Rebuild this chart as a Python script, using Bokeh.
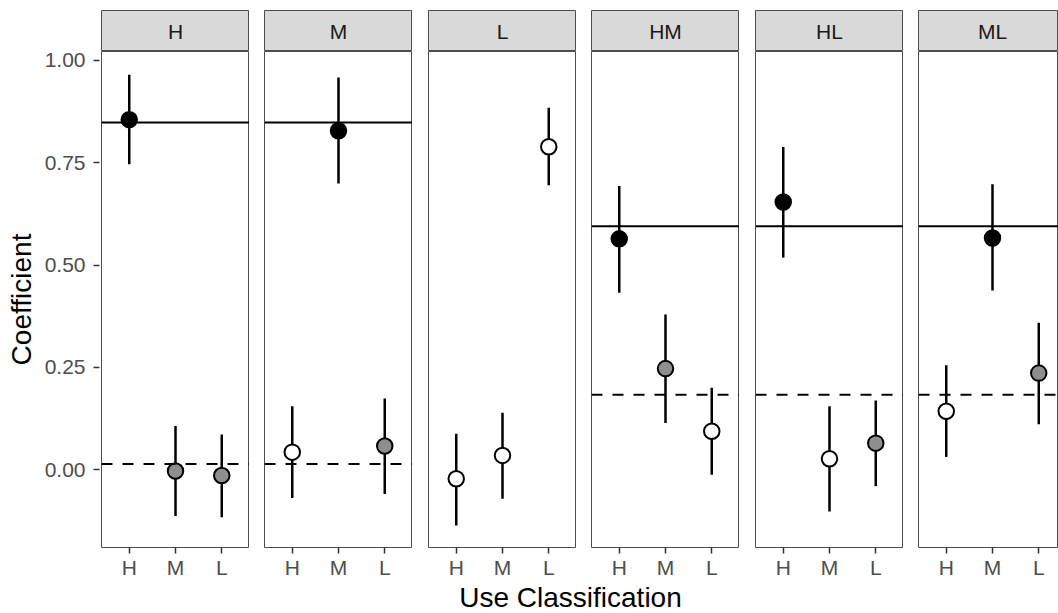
from bokeh.plotting import figure
from bokeh.models import Range1d, FixedTicker, NumeralTickFormatter, Span, Label
from bokeh.layouts import row, column
from bokeh.embed import file_html
from bokeh.resources import INLINE
from bokeh.core.properties import value

# ---------------- data ----------------
panels = ["H", "M", "L", "HM", "HL", "ML"]
levels = ["H", "M", "L"]

estimate = [
    [0.855, -0.003, -0.014],
    [0.043, 0.828, 0.058],
    [-0.022, 0.035, 0.789],
    [0.564, 0.247, 0.094],
    [0.654, 0.027, 0.065],
    [0.143, 0.566, 0.236],
]
lower = [
    [0.746, -0.113, -0.116],
    [-0.069, 0.699, -0.059],
    [-0.136, -0.071, 0.695],
    [0.432, 0.114, -0.012],
    [0.518, -0.102, -0.040],
    [0.031, 0.438, 0.111],
]
upper = [
    [0.965, 0.107, 0.086],
    [0.155, 0.958, 0.174],
    [0.088, 0.139, 0.884],
    [0.693, 0.379, 0.200],
    [0.788, 0.155, 0.169],
    [0.255, 0.697, 0.359],
]
fill_group = [
    ["black", "grey", "grey"],
    ["white", "black", "grey"],
    ["white", "white", "white"],
    ["black", "grey", "white"],
    ["black", "white", "grey"],
    ["white", "black", "grey"],
]
solid_ref = [0.848, 0.848, None, 0.595, 0.595, 0.595]
dashed_ref = [0.014, 0.014, None, 0.183, 0.183, 0.183]
y_ticks = [0.0, 0.25, 0.5, 0.75, 1.0]

# ---------------- style ----------------
FONT = "Liberation Sans"
fill_colors = {"black": "black", "grey": "#8E8E8E", "white": "white"}
TOP = 10
STRIP_H = 41
PANEL_H = 496
PX_PER_UNIT = 148 / 3.2
Y_LO, Y_HI = -0.1899, 1.0215
AXIS_W = 100
gaps = [1, 15, 16, 15, 16, 15]
frame_widths = [148, 148, 148, 148, 148, 140]
BOTTOM_BORDER = 34
TITLE_H = 613 - TOP - STRIP_H - PANEL_H - BOTTOM_BORDER

# ---- shared y axis (its own narrow figure so tick labels are not clipped) ----
ya = figure(
    frame_width=1, frame_height=PANEL_H,
    x_range=Range1d(0, 1), y_range=Range1d(Y_LO, Y_HI),
    output_backend="svg", toolbar_location=None, title=None,
    min_border_left=AXIS_W - 1, min_border_right=0,
    min_border_top=TOP + STRIP_H, min_border_bottom=BOTTOM_BORDER,
    x_axis_location=None, y_axis_location="left",
    background_fill_color="white", border_fill_color="white",
    outline_line_color=None,
)
ya.xgrid.visible = False
ya.ygrid.visible = False
ay = ya.yaxis[0]
ay.ticker = FixedTicker(ticks=y_ticks)
ay.formatter = NumeralTickFormatter(format="0.00")
ay.axis_line_color = None
ay.major_tick_in = 0
ay.major_tick_out = 6
ay.major_tick_line_color = "#333333"
ay.major_tick_line_width = 1.5
ay.minor_tick_line_color = None
ay.major_label_text_font = FONT
ay.major_label_text_font_size = "21px"
ay.major_label_text_color = "#4D4D4D"
ay.major_label_standoff = 8
ay.axis_label = "Coefficient"
ay.axis_label_text_font = FONT
ay.axis_label_text_font_size = "28px"
ay.axis_label_text_font_style = "normal"
ay.axis_label_text_color = "black"
ay.axis_label_standoff = 5

cols = [ya]
for i, name in enumerate(panels):
    w = frame_widths[i]
    x_end = 0.4 + w / PX_PER_UNIT

    # ---- facet strip ----
    s = figure(
        frame_width=w, frame_height=STRIP_H,
        x_range=Range1d(0.4, x_end), y_range=Range1d(0, 1),
        output_backend="svg", toolbar_location=None, title=None,
        min_border_left=gaps[i], min_border_right=0,
        min_border_top=TOP, min_border_bottom=0,
        x_axis_location=None, y_axis_location=None,
        background_fill_color="#D9D9D9", border_fill_color="white",
        outline_line_color="#4D4D4D", outline_line_width=1,
    )
    s.xgrid.visible = False
    s.ygrid.visible = False
    s.text(x=[2.0], y=[0.5], text=[name],
           text_align="center", text_baseline="middle",
           text_font=value(FONT), text_font_size="21px", text_color="#1A1A1A")

    # ---- panel ----
    p = figure(
        frame_width=w, frame_height=PANEL_H,
        x_range=Range1d(0.4, x_end), y_range=Range1d(Y_LO, Y_HI),
        output_backend="svg", toolbar_location=None, title=None,
        min_border_left=gaps[i], min_border_right=0,
        min_border_top=0, min_border_bottom=BOTTOM_BORDER,
        y_axis_location=None,
        background_fill_color="white", border_fill_color="white",
        outline_line_color="#4D4D4D", outline_line_width=1,
    )
    p.xgrid.visible = False
    p.ygrid.visible = False

    xs = [levels.index(l) + 1 for l in levels]

    if solid_ref[i] is not None:
        p.add_layout(Span(location=solid_ref[i], dimension="width",
                          line_color="black", line_width=2))
    if dashed_ref[i] is not None:
        p.add_layout(Span(location=dashed_ref[i], dimension="width",
                          line_color="black", line_width=2, line_dash="11 10"))

    p.segment(x0=xs, y0=lower[i], x1=xs, y1=upper[i],
              line_color="black", line_width=2.5)
    p.scatter(x=xs, y=estimate[i], size=15.5,
              fill_color=[fill_colors[g] for g in fill_group[i]],
              line_color="black", line_width=2)

    ax = p.xaxis[0]
    ax.ticker = FixedTicker(ticks=xs)
    ax.major_label_overrides = {x: l for x, l in zip(xs, levels)}
    ax.axis_line_color = None
    ax.major_tick_in = 0
    ax.major_tick_out = 6
    ax.major_tick_line_color = "#333333"
    ax.major_tick_line_width = 1.5
    ax.minor_tick_line_color = None
    ax.major_label_text_font = FONT
    ax.major_label_text_font_size = "21px"
    ax.major_label_text_color = "#4D4D4D"
    ax.major_label_standoff = 2

    cols.append(column(s, p, spacing=0))

# bottom axis title
bt = figure(width=1058, height=TITLE_H, x_range=Range1d(0, 1058), y_range=Range1d(0, TITLE_H),
            output_backend="svg", toolbar_location=None, title=None,
            min_border=0, x_axis_location=None, y_axis_location=None,
            outline_line_color=None, background_fill_color="white",
            border_fill_color="white")
bt.xgrid.visible = False
bt.ygrid.visible = False
bt.add_layout(Label(x=570, y=TITLE_H / 2, text="Use Classification", text_align="center",
                    text_baseline="middle", text_font=FONT,
                    text_font_size="28px", text_color="black"))

layout = column(row(*cols, spacing=0), bt, spacing=0)
open("out.html", "w").write(file_html(layout, INLINE))
